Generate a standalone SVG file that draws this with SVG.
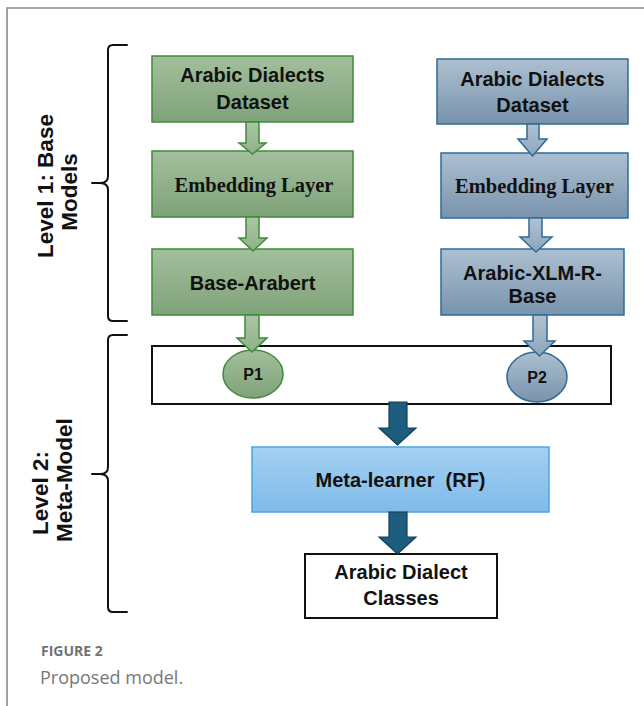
<svg xmlns="http://www.w3.org/2000/svg" width="644" height="706" viewBox="0 0 644 706">
  <defs>
    <linearGradient id="gGreen" x1="0" y1="0" x2="0" y2="1">
      <stop offset="0" stop-color="#a3bf9d"/>
      <stop offset="1" stop-color="#7fa279"/>
    </linearGradient>
    <linearGradient id="gBlue" x1="0" y1="0" x2="0" y2="1">
      <stop offset="0" stop-color="#adc0d1"/>
      <stop offset="1" stop-color="#7893ad"/>
    </linearGradient>
    <linearGradient id="gMeta" x1="0" y1="0" x2="0" y2="1">
      <stop offset="0" stop-color="#a3d0f2"/>
      <stop offset="1" stop-color="#7fbbe9"/>
    </linearGradient>
    <linearGradient id="gGreenArrow" x1="0" y1="0" x2="0" y2="1">
      <stop offset="0" stop-color="#aac6a4"/>
      <stop offset="1" stop-color="#8fb089"/>
    </linearGradient>
    <linearGradient id="gBlueArrow" x1="0" y1="0" x2="0" y2="1">
      <stop offset="0" stop-color="#b0c2d3"/>
      <stop offset="1" stop-color="#8ea5bc"/>
    </linearGradient>
  </defs>
  <style>
    .frame { fill: none; stroke: #8a8a8a; stroke-width: 1.6; }
    .gbox { fill: url(#gGreen); stroke: #3f8a3a; stroke-width: 1.5; }
    .bbox { fill: url(#gBlue); stroke: #2f6b94; stroke-width: 1.5; }
    .mbox { fill: url(#gMeta); stroke: #4aa8de; stroke-width: 1.5; }
    .wbox { fill: #ffffff; stroke: #111111; stroke-width: 2; }
    .garrow { fill: url(#gGreenArrow); stroke: #3f8a3a; stroke-width: 1.5; stroke-linejoin: miter; }
    .barrow { fill: url(#gBlueArrow); stroke: #2f6b94; stroke-width: 1.5; stroke-linejoin: miter; }
    .darrow { fill: #1c5d7e; stroke: #123f57; stroke-width: 1.2; stroke-linejoin: miter; }
    .brace { fill: none; stroke: #111111; stroke-width: 2; stroke-linecap: round; stroke-linejoin: round; }
    .t { font-family: "Liberation Sans", Arial, sans-serif; font-weight: bold; font-size: 20px; fill: #111111; text-anchor: middle; }
    .ts { font-family: "Liberation Serif", "Times New Roman", serif; font-weight: bold; font-size: 20.5px; fill: #111111; text-anchor: middle; }
    .tp { font-family: "Liberation Sans", Arial, sans-serif; font-weight: bold; font-size: 16px; fill: #111111; text-anchor: middle; }
    .tl { font-family: "Liberation Sans", Arial, sans-serif; font-weight: bold; font-size: 22.5px; fill: #111111; text-anchor: middle; }
    .cap1 { font-family: "Open Sans", "Liberation Sans", sans-serif; font-weight: bold; font-size: 14px; fill: #727272; }
    .cap2 { font-family: "Open Sans", "Liberation Sans", sans-serif; font-size: 18px; fill: #777777; }
  </style>

  <!-- page frame -->
  <path class="frame" d="M7 706 V8 H644"/>

  <!-- level braces and labels -->
  <g id="level1">
    <path class="brace" d="M127 45 H113 Q108 45 108 50 V176 Q108 183 100 183 H92 H100 Q108 183 108 190 V316 Q108 321 113 321 H127"/>
    <text class="tl" transform="translate(53,186) rotate(-90)">Level 1: Base</text>
    <text class="tl" transform="translate(77,192) rotate(-90)">Models</text>
  </g>
  <g id="level2">
    <path class="brace" d="M127 335 H113 Q108 335 108 340 V467 Q108 474 100 474 H92 H100 Q108 474 108 481 V607 Q108 612 113 612 H127"/>
    <text class="tl" transform="translate(48,493) rotate(-90)">Level 2:</text>
    <text class="tl" transform="translate(72,480) rotate(-90)">Meta-Model</text>
  </g>

  <!-- left branch: AraBERT -->
  <g id="dataset-a">
    <rect class="gbox" x="152" y="56" width="201" height="66"/>
    <text class="t" x="252.5" y="82">Arabic Dialects</text>
    <text class="t" x="252.5" y="109">Dataset</text>
  </g>
  <g id="embedding-a">
    <rect class="gbox" x="152" y="151" width="201" height="66"/>
    <text class="ts" x="254" y="192">Embedding Layer</text>
  </g>
  <g id="arabert">
    <rect class="gbox" x="152" y="249" width="201" height="66"/>
    <text class="t" x="252.5" y="290">Base-Arabert</text>
  </g>

  <!-- right branch: XLM-R -->
  <g id="dataset-b">
    <rect class="bbox" x="437" y="59" width="191" height="65"/>
    <text class="t" x="532.5" y="86">Arabic Dialects</text>
    <text class="t" x="532.5" y="112">Dataset</text>
  </g>
  <g id="embedding-b">
    <rect class="bbox" x="441" y="153" width="187" height="65"/>
    <text class="ts" x="534.5" y="193">Embedding Layer</text>
  </g>
  <g id="xlmr">
    <rect class="bbox" x="441" y="249" width="183" height="66"/>
    <text class="t" x="532.5" y="280">Arabic-XLM-R-</text>
    <text class="t" x="532.5" y="303">Base</text>
  </g>

  <!-- prediction strip -->
  <g id="predictions">
    <rect class="wbox" x="152" y="346" width="459" height="58"/>
  </g>
  <g id="p1">
    <ellipse class="gbox" cx="253" cy="374" rx="30" ry="24"/>
    <text class="tp" x="253" y="380">P1</text>
  </g>
  <g id="p2">
    <ellipse class="bbox" cx="537" cy="377" rx="30" ry="25"/>
    <text class="tp" x="537" y="383">P2</text>
  </g>

  <!-- meta level -->
  <g id="meta-learner">
    <rect class="mbox" x="252" y="447" width="297" height="65"/>
    <text class="t" x="400.5" y="487" xml:space="preserve">Meta-learner  (RF)</text>
  </g>
  <g id="classes">
    <rect class="wbox" x="305" y="554" width="192" height="64"/>
    <text class="t" x="401" y="579">Arabic Dialect</text>
    <text class="t" x="401" y="605">Classes</text>
  </g>

  <!-- block arrows -->
  <g id="connectors">
    <path class="garrow" d="M246 122 H259 V143 H266 L252.5 154 L239 143 H246 Z"/>
    <path class="garrow" d="M246 217 H259 V238 H267 L253 251 L239 238 H246 Z"/>
    <path class="garrow" d="M245 315 H259 V338 H267 L252 352 L237 338 H245 Z"/>
    <path class="barrow" d="M527 124 H539 V139 H547 L532.5 156 L518 139 H527 Z"/>
    <path class="barrow" d="M529 218 H542 V237 H552 L536 252 L520 237 H529 Z"/>
    <path class="barrow" d="M533 315 H547 V341 H555 L539.5 356 L524 341 H533 Z"/>
    <path class="darrow" d="M389 402 H407 V428 H416 L397.5 445 L379 428 H389 Z"/>
    <path class="darrow" d="M389 512 H407 V537 H416 L397.5 554 L379 537 H389 Z"/>
  </g>

  <!-- caption -->
  <text class="cap1" x="41" y="656">FIGURE 2</text>
  <text class="cap2" x="40" y="684">Proposed model.</text>
</svg>
